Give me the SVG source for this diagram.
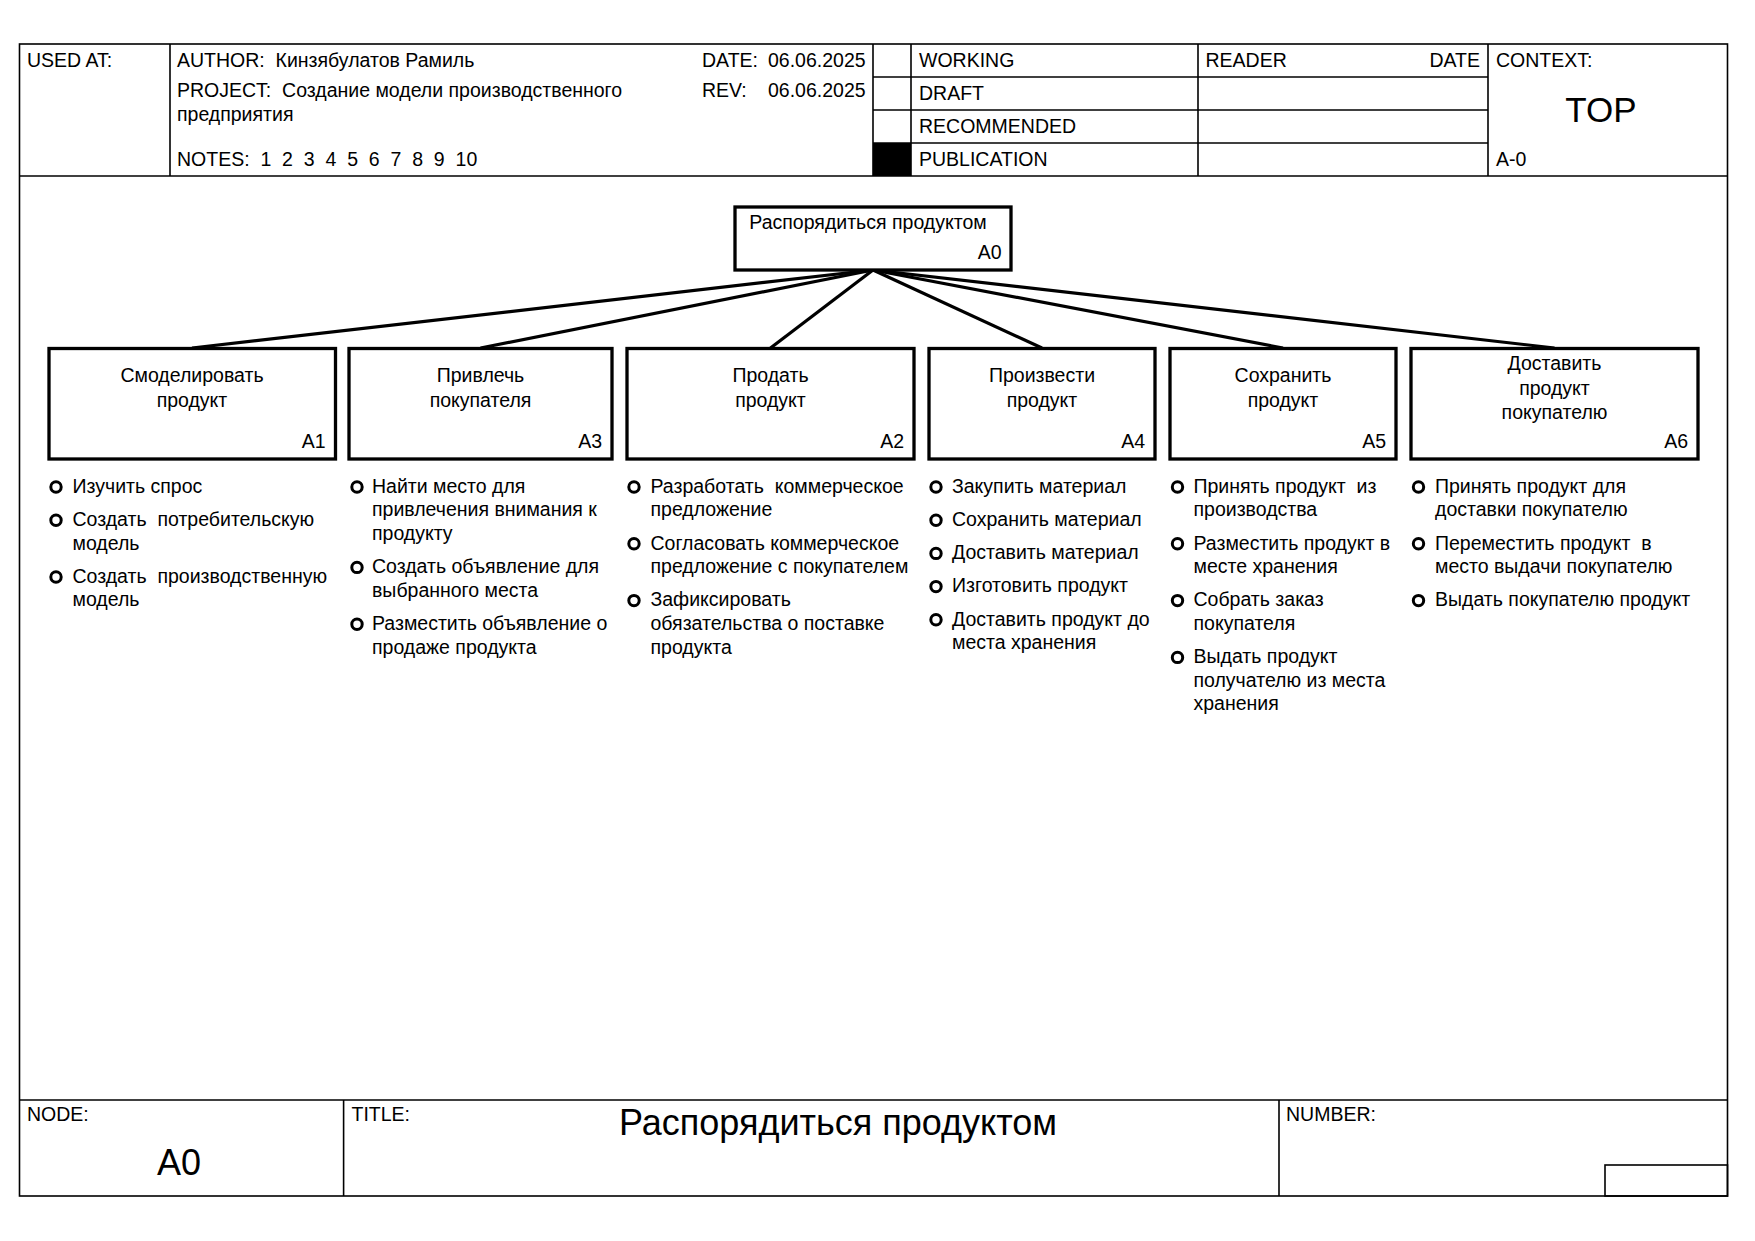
<svg xmlns="http://www.w3.org/2000/svg" width="1755" height="1241" viewBox="0 0 1755 1241">
<style>
text{font-family:"Liberation Sans",Arial,sans-serif;font-size:19.5px;fill:#000;white-space:pre}
.frame{fill:none;stroke:#000;stroke-width:1.6}
.box{fill:#fff;stroke:#000;stroke-width:3.3}
.conn{stroke:#000;stroke-width:3.2;fill:none}
.b{fill:#fff;stroke:#000;stroke-width:3}
.c{text-anchor:middle}
.r{text-anchor:end}
</style>
<rect width="1755" height="1241" fill="#fff"/>
<g id="frame">
<rect class="frame" x="19.5" y="44" width="1708" height="1152"/>
<line class="frame" x1="19.5" y1="176" x2="1727.5" y2="176"/>
<line class="frame" x1="170" y1="44" x2="170" y2="176"/>
<line class="frame" x1="873" y1="44" x2="873" y2="176"/>
<line class="frame" x1="911" y1="44" x2="911" y2="176"/>
<line class="frame" x1="1198" y1="44" x2="1198" y2="176"/>
<line class="frame" x1="1488" y1="44" x2="1488" y2="176"/>
<line class="frame" x1="873" y1="77" x2="1488" y2="77"/>
<line class="frame" x1="873" y1="110" x2="1488" y2="110"/>
<line class="frame" x1="873" y1="143" x2="1488" y2="143"/>
<rect x="873" y="143" width="38" height="33" fill="#000"/>
<text x="27" y="67">USED AT:</text>
<text x="177" y="67">AUTHOR:  Кинзябулатов Рамиль</text>
<text x="177" y="97">PROJECT:  Создание модели производственного</text>
<text x="177" y="121">предприятия</text>
<text x="177" y="165.5">NOTES:  1  2  3  4  5  6  7  8  9  10</text>
<text x="702" y="67">DATE:</text>
<text x="768" y="67">06.06.2025</text>
<text x="702" y="97">REV:</text>
<text x="768" y="97">06.06.2025</text>
<text x="919" y="67">WORKING</text>
<text x="919" y="100">DRAFT</text>
<text x="919" y="133">RECOMMENDED</text>
<text x="919" y="165.5">PUBLICATION</text>
<text x="1205.5" y="67">READER</text>
<text class="r" x="1480" y="67">DATE</text>
<text x="1496" y="67">CONTEXT:</text>
<text class="c" x="1601" y="122" style="font-size:35px">TOP</text>
<text x="1496" y="165.5">A-0</text>
<line class="frame" x1="19.5" y1="1100" x2="1727.5" y2="1100"/>
<line class="frame" x1="343.6" y1="1100" x2="343.6" y2="1196"/>
<line class="frame" x1="1279" y1="1100" x2="1279" y2="1196"/>
<rect class="frame" x="1605" y="1165" width="122.5" height="31"/>
<text x="27" y="1120.5">NODE:</text>
<text x="351.5" y="1120.5">TITLE:</text>
<text x="1286" y="1120.5">NUMBER:</text>
<text class="c" x="179" y="1175" style="font-size:36px">A0</text>
<text class="c" x="838" y="1135" style="font-size:36px">Распорядиться продуктом</text>
</g>
<g id="connectors">
<line class="conn" x1="873" y1="270" x2="192" y2="348"/>
<line class="conn" x1="873" y1="270" x2="480.5" y2="348"/>
<line class="conn" x1="873" y1="270" x2="770.5" y2="348"/>
<line class="conn" x1="873" y1="270" x2="1042" y2="348"/>
<line class="conn" x1="873" y1="270" x2="1283" y2="348"/>
<line class="conn" x1="873" y1="270" x2="1554.5" y2="348"/>
</g>
<g id="A0">
<rect class="box" x="735" y="207" width="276" height="63"/>
<text class="c" x="868" y="228.5">Распорядиться продуктом</text>
<text class="r" x="1001.5" y="258.5">A0</text>
</g>
<g id="A1">
<rect class="box" x="49" y="348.5" width="286.5" height="110.5"/>
<text class="c" x="192" y="382">Смоделировать</text>
<text class="c" x="192" y="407">продукт</text>
<text class="r" x="325.5" y="447.5">A1</text>
<circle class="b" cx="56" cy="487" r="5.2"/><text x="72.5" y="492.7">Изучить спрос</text>
<circle class="b" cx="56" cy="520.2" r="5.2"/><text x="72.5" y="525.9">Создать  потребительскую</text><text x="72.5" y="549.5">модель</text>
<circle class="b" cx="56" cy="577" r="5.2"/><text x="72.5" y="582.7">Создать  производственную</text><text x="72.5" y="606.3">модель</text>
</g>
<g id="A3">
<rect class="box" x="349" y="348.5" width="263" height="110.5"/>
<text class="c" x="480.5" y="382">Привлечь</text>
<text class="c" x="480.5" y="407">покупателя</text>
<text class="r" x="602" y="447.5">A3</text>
<circle class="b" cx="357" cy="487" r="5.2"/><text x="372" y="492.7">Найти место для</text><text x="372" y="516.3">привлечения внимания к</text><text x="372" y="539.9">продукту</text>
<circle class="b" cx="357" cy="567.4" r="5.2"/><text x="372" y="573.1">Создать объявление для</text><text x="372" y="596.7">выбранного места</text>
<circle class="b" cx="357" cy="624.2" r="5.2"/><text x="372" y="629.9">Разместить объявление о</text><text x="372" y="653.5">продаже продукта</text>
</g>
<g id="A2">
<rect class="box" x="627" y="348.5" width="287" height="110.5"/>
<text class="c" x="770.5" y="382">Продать</text>
<text class="c" x="770.5" y="407">продукт</text>
<text class="r" x="904" y="447.5">A2</text>
<circle class="b" cx="634" cy="487" r="5.2"/><text x="650.5" y="492.7">Разработать  коммерческое</text><text x="650.5" y="516.3">предложение</text>
<circle class="b" cx="634" cy="543.8" r="5.2"/><text x="650.5" y="549.5">Согласовать коммерческое</text><text x="650.5" y="573.1">предложение с покупателем</text>
<circle class="b" cx="634" cy="600.6" r="5.2"/><text x="650.5" y="606.3">Зафиксировать</text><text x="650.5" y="629.9">обязательства о поставке</text><text x="650.5" y="653.5">продукта</text>
</g>
<g id="A4">
<rect class="box" x="929" y="348.5" width="226" height="110.5"/>
<text class="c" x="1042" y="382">Произвести</text>
<text class="c" x="1042" y="407">продукт</text>
<text class="r" x="1145" y="447.5">A4</text>
<circle class="b" cx="936" cy="487" r="5.2"/><text x="952" y="492.7">Закупить материал</text>
<circle class="b" cx="936" cy="520.2" r="5.2"/><text x="952" y="525.9">Сохранить материал</text>
<circle class="b" cx="936" cy="553.4" r="5.2"/><text x="952" y="559.1">Доставить материал</text>
<circle class="b" cx="936" cy="586.6" r="5.2"/><text x="952" y="592.3">Изготовить продукт</text>
<circle class="b" cx="936" cy="619.8" r="5.2"/><text x="952" y="625.5">Доставить продукт до</text><text x="952" y="649.1">места хранения</text>
</g>
<g id="A5">
<rect class="box" x="1170" y="348.5" width="226" height="110.5"/>
<text class="c" x="1283" y="382">Сохранить</text>
<text class="c" x="1283" y="407">продукт</text>
<text class="r" x="1386" y="447.5">A5</text>
<circle class="b" cx="1177.5" cy="487" r="5.2"/><text x="1193.5" y="492.7">Принять продукт  из</text><text x="1193.5" y="516.3">производства</text>
<circle class="b" cx="1177.5" cy="543.8" r="5.2"/><text x="1193.5" y="549.5">Разместить продукт в</text><text x="1193.5" y="573.1">месте хранения</text>
<circle class="b" cx="1177.5" cy="600.6" r="5.2"/><text x="1193.5" y="606.3">Собрать заказ</text><text x="1193.5" y="629.9">покупателя</text>
<circle class="b" cx="1177.5" cy="657.4" r="5.2"/><text x="1193.5" y="663.1">Выдать продукт</text><text x="1193.5" y="686.7">получателю из места</text><text x="1193.5" y="710.3">хранения</text>
</g>
<g id="A6">
<rect class="box" x="1411" y="348.5" width="287" height="110.5"/>
<text class="c" x="1554.5" y="370">Доставить</text>
<text class="c" x="1554.5" y="394.5">продукт</text>
<text class="c" x="1554.5" y="419">покупателю</text>
<text class="r" x="1688" y="447.5">A6</text>
<circle class="b" cx="1418.5" cy="487" r="5.2"/><text x="1435" y="492.7">Принять продукт для</text><text x="1435" y="516.3">доставки покупателю</text>
<circle class="b" cx="1418.5" cy="543.8" r="5.2"/><text x="1435" y="549.5">Переместить продукт  в</text><text x="1435" y="573.1">место выдачи покупателю</text>
<circle class="b" cx="1418.5" cy="600.6" r="5.2"/><text x="1435" y="606.3">Выдать покупателю продукт</text>
</g>
</svg>
